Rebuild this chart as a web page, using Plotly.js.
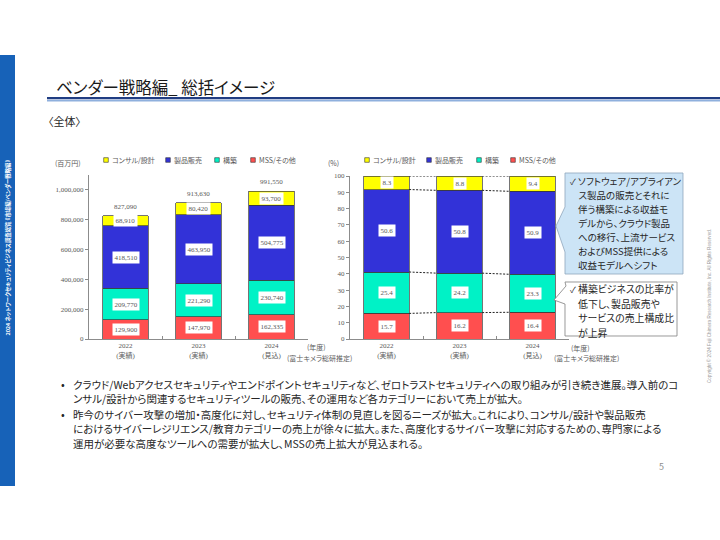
<!DOCTYPE html>
<html><head><meta charset="utf-8">
<script src="https://cdn.plot.ly/plotly-3.0.1.min.js"></script>
<style>
html,body{margin:0;padding:0;background:#fff;}
#chart{width:720px;height:540px;}
text{font-feature-settings:"palt" 1;}
</style></head><body><div id="chart"></div>
<script>
// ---------- data ----------
const years = ['2022', '2023', '2024'];
const yearStatus = ['(実績)', '(実績)', '(見込)'];
const seriesNames = ['コンサル/設計', '製品販売', '構築', 'MSS/その他'];
// amounts (百万円)
const consultValues = [68910, 80420, 93700];
const productValues = [418510, 463950, 504775];
const buildValues = [209770, 221290, 230740];
const mssValues = [129900, 147970, 162335];
const totalValues = [827090, 913630, 991550];
// shares (%)
const consultShare = [8.3, 8.8, 9.4];
const productShare = [50.6, 50.8, 50.9];
const buildShare = [25.4, 24.2, 23.3];
const mssShare = [15.7, 16.2, 16.4];
const leftTicks = [0, 200000, 400000, 600000, 800000, 1000000];
const rightTicks = [0, 10, 20, 30, 40, 50, 60, 70, 80, 90, 100];

const titleText = 'ベンダー戦略編_ 総括イメージ';
const subTitle = '〈全体〉';
const sideText = '2024 ネットワークセキュリティビジネス調査総覧 《市場編/ベンダー戦略編》';
const callout1 = ['ソフトウェア/アプライアン', 'ス製品の販売とそれに', '伴う構築による収益モ', 'デルから、クラウド製品', 'への移行、上流サービス', 'およびMSS提供による', '収益モデルへシフト'];
const callout2 = ['構築ビジネスの比率が', '低下し、製品販売や', 'サービスの売上構成比', 'が上昇'];
const bullet1 = ['クラウド/Webアクセスセキュリティやエンドポイントセキュリティなど、ゼロトラストセキュリティへの取り組みが引き続き進展。導入前のコ',
  'ンサル/設計から関連するセキュリティツールの販売、その運用など各カテゴリーにおいて売上が拡大。'];
const bullet2 = ['昨今のサイバー攻撃の増加・高度化に対し、セキュリティ体制の見直しを図るニーズが拡大。これにより、コンサル/設計や製品販売',
  'におけるサイバーレジリエンス/教育カテゴリーの売上が徐々に拡大。また、高度化するサイバー攻撃に対応するための、専門家による',
  '運用が必要な高度なツールへの需要が拡大し、MSSの売上拡大が見込まれる。'];

// ---------- style ----------
const colors = {consult: '#FFFF00', product: '#3232D8', build: '#00F2C6', mss: '#FF4F4F'};
const serif = 'Liberation Serif, Noto Sans CJK JP, serif';
const sans = 'Noto Sans CJK JP, DejaVu Sans, sans-serif';
const lblColor = '#595959';
const axColor = '#8c8c8c';
const W = 720, H = 540;
const P = px => px / W;
const Q = py => 1 - py / H;
const BW = 0.62;

const xIdx = years.map((_, i) => i);
const tickText = years.map((y, i) => y + '<br>' + yearStatus[i]);

// stacking order bottom -> top
const stackAbs = [
  {name: seriesNames[3], vals: mssValues, color: colors.mss},
  {name: seriesNames[2], vals: buildValues, color: colors.build},
  {name: seriesNames[1], vals: productValues, color: colors.product},
  {name: seriesNames[0], vals: consultValues, color: colors.consult}
];
const stackPct = [
  {name: seriesNames[3], vals: mssShare, color: colors.mss},
  {name: seriesNames[2], vals: buildShare, color: colors.build},
  {name: seriesNames[1], vals: productShare, color: colors.product},
  {name: seriesNames[0], vals: consultShare, color: colors.consult}
];

const traces = [];
const annotations = [];
const shapes = [];

function addStack(stack, xa, ya, fmt) {
  const base = xIdx.map(() => 0);
  const cumLevels = [base.slice()];
  stack.forEach(s => {
    traces.push({
      type: 'bar', x: xIdx, y: s.vals, name: s.name, xaxis: xa, yaxis: ya,
      width: BW, showlegend: false, hoverinfo: 'skip',
      marker: {color: s.color, line: {color: '#3a3a3a', width: 0.7}}
    });
    s.vals.forEach((v, i) => {
      annotations.push({
        xref: xa, yref: ya, x: xIdx[i], y: base[i] + v / 2, text: fmt(v),
        showarrow: false, bgcolor: '#ffffff', borderpad: 1.5,
        font: {family: serif, size: 7, color: lblColor}
      });
      base[i] += v;
    });
    cumLevels.push(base.slice());
  });
  return cumLevels;
}

addStack(stackAbs, 'x', 'y', v => v.toLocaleString('en-US'));
totalValues.forEach((t, i) => {
  annotations.push({xref: 'x', yref: 'y', x: xIdx[i], y: t, yanchor: 'bottom', yshift: 3,
    text: t.toLocaleString('en-US'), showarrow: false,
    font: {family: serif, size: 7, color: lblColor}});
});
const pctLevels = addStack(stackPct, 'x2', 'y2', v => v.toFixed(1));

// dashed connectors between share bars
const cx = [], cy = [];
pctLevels.slice(1).forEach(level => {
  for (let i = 0; i < xIdx.length - 1; i++) {
    cx.push(xIdx[i] + BW / 2, xIdx[i + 1] - BW / 2, null);
    cy.push(level[i], level[i + 1], null);
  }
});
traces.push({type: 'scatter', mode: 'lines', x: cx, y: cy, xaxis: 'x2', yaxis: 'y2',
  showlegend: false, hoverinfo: 'skip', line: {color: '#222', width: 1, dash: '2px,1.5px'}});

// ---------- manual legends ----------
const legendColors = [colors.consult, colors.product, colors.build, colors.mss];
function addLegend(xs, y) {
  seriesNames.forEach((n, k) => {
    shapes.push({type: 'rect', xref: 'paper', yref: 'paper',
      x0: P(xs[k] - 2.3), x1: P(xs[k] + 2.3), y0: Q(y + 2.3), y1: Q(y - 2.3),
      fillcolor: legendColors[k], line: {color: '#333', width: 0.6}});
    annotations.push({xref: 'paper', yref: 'paper', x: P(xs[k] + 4), y: Q(y), xanchor: 'left',
      yanchor: 'middle', text: n, showarrow: false, font: {family: sans, size: 7, color: lblColor}});
  });
}
addLegend([106, 168, 217, 253], 160);
addLegend([367, 429, 479, 513], 160);

function txt(px, py, text, size, color, opts) {
  annotations.push(Object.assign({xref: 'paper', yref: 'paper', x: P(px), y: Q(py),
    xanchor: 'left', yanchor: 'middle', align: 'left', text: text, showarrow: false,
    font: {family: sans, size: size, color: color}}, opts || {}));
}

// axis-related texts
txt(68, 163, '(百万円)', 7, lblColor, {xanchor: 'center'});
txt(333, 163, '(%)', 7, lblColor, {xanchor: 'center'});
txt(316, 347, '(年度)', 7, lblColor, {xanchor: 'center'});
txt(285, 358, '(富士キメラ総研推定)', 7, lblColor);
txt(580, 348, '(年度)', 7, lblColor, {xanchor: 'center'});
txt(552, 358, '(富士キメラ総研推定)', 7, lblColor);

// ---------- slide decoration ----------
shapes.push({type: 'rect', xref: 'paper', yref: 'paper', x0: 0, x1: P(15), y0: Q(486), y1: Q(55),
  fillcolor: '#1762B8', line: {width: 0}, layer: 'below'});
shapes.push({type: 'line', xref: 'paper', yref: 'paper', x0: P(47), x1: 1, y0: Q(98.2), y1: Q(98.2),
  line: {color: '#203D82', width: 2.2}});
shapes.push({type: 'line', xref: 'paper', yref: 'paper', x0: P(47), x1: 1, y0: Q(100.6), y1: Q(100.6),
  line: {color: '#8FB0DD', width: 1.6}});

annotations.push({xref: 'paper', yref: 'paper', x: P(7.5), y: Q(248), xanchor: 'center', yanchor: 'middle',
  text: sideText, textangle: -90, showarrow: false,
  font: {family: sans, size: 5.4, color: '#ffffff', weight: 'bold'}});
txt(54, 87, titleText, 16.5, '#1a1a1a');
txt(46, 121, subTitle, 11, '#262626');

// callouts
function pathOf(pts) {
  return 'M' + pts.map(p => P(p[0]).toFixed(5) + ',' + Q(p[1]).toFixed(5)).join(' L') + ' Z';
}
shapes.push({type: 'path', xref: 'paper', yref: 'paper',
  path: pathOf([[565, 173], [683, 173], [683, 274], [565, 274], [565, 252], [556, 226], [565, 207]]),
  fillcolor: '#CCE4F6', line: {color: '#8FA6BC', width: 0.8}});
shapes.push({type: 'path', xref: 'paper', yref: 'paper',
  path: pathOf([[565, 282], [677, 282], [677, 336], [565, 336], [565, 304], [554, 300], [566, 286]]),
  fillcolor: '#ffffff', line: {color: '#7f7f7f', width: 0.8}});
txt(568, 181, '✓', 8.5, '#333');
callout1.forEach((l, k) => txt(576, 181 + k * 14, l, 9.5, '#262626'));
txt(568, 289, '✓', 8.5, '#333');
callout2.forEach((l, k) => txt(576, 289 + k * 14.5, l, 9.9, '#262626'));

// bullets
txt(59, 384, '•', 11, '#262626');
bullet1.forEach((l, k) => txt(71, 384 + k * 14.5, l, 10.5, '#262626'));
txt(59, 414, '•', 11, '#262626');
bullet2.forEach((l, k) => txt(71, 414 + k * 14.5, l, 10.5, '#262626'));

txt(661, 466, '5', 9, '#8c8c8c', {xanchor: 'center'});
annotations.push({xref: 'paper', yref: 'paper', x: P(714), y: Q(385), textangle: -90, showarrow: false,
  text: 'Copyright © 2024 Fuji Chimera Research Institute, Inc. All Rights Reserved.',
  font: {family: 'Liberation Sans, sans-serif', size: 4.6, color: '#9a9a9a'}});

// ---------- axes ----------
function xAxis(d0, d1, anchor) {
  return {domain: [P(d0), P(d1)], anchor: anchor, range: [-0.5, 2.5], tickvals: xIdx, ticktext: tickText,
    ticks: '', showgrid: false, zeroline: false, showline: true, linecolor: axColor, linewidth: 1,
    tickfont: {family: serif, size: 7, color: lblColor}, fixedrange: true,
    minor: {tickvals: [0.5, 1.5], ticks: 'inside', ticklen: 3, tickcolor: axColor, showgrid: false}};
}
function yAxis(top, range, tickvals, fmt, anchor) {
  return {domain: [Q(339), Q(top)], anchor: anchor, range: range, tickvals: tickvals,
    ticktext: tickvals.map(fmt), ticks: 'outside', ticklen: 3, tickcolor: axColor,
    showgrid: false, zeroline: false, showline: true, linecolor: axColor, linewidth: 1,
    tickfont: {family: serif, size: 7, color: lblColor}, fixedrange: true};
}

const layout = {
  width: W, height: H, margin: {l: 0, r: 0, t: 0, b: 0},
  paper_bgcolor: '#ffffff', plot_bgcolor: 'rgba(0,0,0,0)',
  barmode: 'stack', showlegend: false,
  xaxis: xAxis(89, 308, 'y'),
  yaxis: yAxis(175, [0, 1100000], leftTicks, v => v.toLocaleString('en-US'), 'x'),
  xaxis2: xAxis(350, 569, 'y2'),
  yaxis2: yAxis(176, [0, 100], rightTicks, v => String(v), 'x2'),
  annotations: annotations, shapes: shapes
};

Plotly.newPlot('chart', traces, layout, {staticPlot: true, displayModeBar: false});
</script></body></html>
